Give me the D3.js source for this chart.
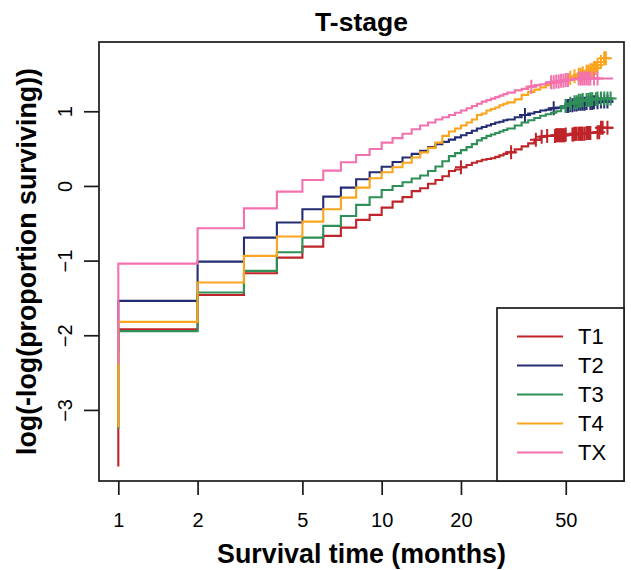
<!DOCTYPE html>
<html>
<head>
<meta charset="utf-8">
<script src="https://cdn.jsdelivr.net/npm/d3@7"></script>
<style>
  html, body { margin: 0; padding: 0; background: #fff; }
  svg { display: block; }
  text { font-family: "Liberation Sans", Arial, Helvetica, sans-serif; fill: #000; }
</style>
</head>
<body>
<svg id="chart" width="631" height="570"></svg>
<script>
// Complementary log-log survival curves by T-stage (months on a log axis)
const groups = ["T1", "T2", "T3", "T4", "TX"];
const groupColors = ["#BE2429", "#252D72", "#2E8F57", "#FBA41E", "#F271AE"];

// months at which the step curves change
const stepMonths = [1, 2, 3, 4, 5, 6, 7, 8, 9, 10,
  11, 12, 13, 14, 15, 16, 17, 18, 19, 20,
  21, 22, 23, 24, 25, 26, 27, 28, 29, 30,
  32, 34, 36, 38, 40, 42, 44, 46, 48, 50,
  52, 54, 56, 58, 60, 62, 64, 66, 68, 70];

// log(-log(S)) after each step month
const t1Values = [-1.92, -1.46, -1.169, -0.96, -0.813, -0.669, -0.558, -0.455, -0.388, -0.29,
  -0.21, -0.15, -0.07, -0.03, 0.03, 0.08, 0.13, 0.20, 0.22, 0.25,
  0.28, 0.31, 0.33, 0.35, 0.36, 0.37, 0.39, 0.41, 0.43, 0.45,
  0.49, 0.53, 0.57, 0.62, 0.66, 0.67, 0.67, 0.68, 0.68, 0.69,
  0.69, 0.70, 0.70, 0.70, 0.71, 0.71, 0.72, 0.72, 0.78, 0.78];
const t2Values = [-1.54, -1.013, -0.692, -0.49, -0.312, -0.143, -0.023, 0.09, 0.183, 0.258,
  0.32, 0.38, 0.43, 0.47, 0.52, 0.56, 0.59, 0.62, 0.65, 0.68,
  0.71, 0.74, 0.77, 0.79, 0.81, 0.83, 0.85, 0.86, 0.88, 0.89,
  0.92, 0.95, 0.97, 0.99, 1.01, 1.02, 1.04, 1.05, 1.06, 1.07,
  1.08, 1.09, 1.10, 1.10, 1.11, 1.11, 1.12, 1.12, 1.13, 1.13];
const t3Values = [-1.945, -1.428, -1.138, -0.888, -0.692, -0.535, -0.402, -0.254, -0.151, -0.054,
  0.00, 0.05, 0.10, 0.14, 0.20, 0.26, 0.33, 0.40, 0.44, 0.48,
  0.52, 0.56, 0.61, 0.64, 0.67, 0.69, 0.71, 0.73, 0.75, 0.77,
  0.81, 0.85, 0.88, 0.91, 0.94, 0.96, 0.98, 1.00, 1.04, 1.07,
  1.10, 1.12, 1.14, 1.15, 1.15, 1.16, 1.16, 1.17, 1.17, 1.17];
const t4Values = [-1.82, -1.294, -0.937, -0.678, -0.478, -0.312, -0.157, -0.023, 0.103, 0.183,
  0.25, 0.31, 0.38, 0.45, 0.51, 0.58, 0.67, 0.73, 0.77, 0.81,
  0.85, 0.89, 0.95, 0.97, 1.01, 1.03, 1.05, 1.08, 1.10, 1.12,
  1.16, 1.22, 1.26, 1.29, 1.32, 1.35, 1.38, 1.39, 1.41, 1.43,
  1.45, 1.47, 1.49, 1.51, 1.53, 1.55, 1.58, 1.62, 1.66, 1.71];
const txValues = [-1.04, -0.566, -0.30, -0.076, 0.08, 0.205, 0.317, 0.415, 0.495, 0.58,
  0.64, 0.70, 0.76, 0.81, 0.85, 0.89, 0.92, 0.95, 0.98, 1.01,
  1.04, 1.07, 1.10, 1.13, 1.15, 1.17, 1.19, 1.21, 1.23, 1.25,
  1.28, 1.30, 1.33, 1.35, 1.36, 1.38, 1.39, 1.40, 1.41, 1.42,
  1.43, 1.43, 1.44, 1.44, 1.44, 1.44, 1.44, 1.44, 1.44, 1.44];

// lowest point of the first (vertical) step at month 1
const startValues = [-3.745, -2.2, -3.24, -3.22, -2.37];
// last follow-up month per group
const endMonths = [75, 75, 75, 71, 75];

// censored observations (months)
const t1Censored = [20, 31, 38.5, 40.5, 42.5, 45.5, 46, 46.5, 47, 47.5, 48, 48.5, 49, 49.5, 50,
  53, 53.5, 54, 54.5, 55, 56, 56.5, 57, 57.5, 58, 59, 60, 60.5, 61, 61.5, 62, 66, 67, 68, 69, 72];
const t2Censored = [35, 45, 50, 51, 52, 53, 54, 55, 56, 57, 58, 59, 60, 62, 63, 64, 66, 68, 70, 72];
const t3Censored = [50, 52, 54, 55, 56, 57, 58, 60, 61, 62, 63, 65, 66, 68, 70, 72, 74];
const t4Censored = [52, 54, 56, 57, 58, 60, 61, 62, 63, 64, 65, 66, 68, 70, 71];
const txCensored = [37, 44, 45, 46, 47, 48, 49, 50, 51, 56, 57, 58, 59, 60, 61, 62, 64, 66];

const xTicks = [1, 2, 5, 10, 20, 50];
const yTicks = [-3, -2, -1, 0, 1];

const valueSets = [t1Values, t2Values, t3Values, t4Values, txValues];
const censorSets = [t1Censored, t2Censored, t3Censored, t4Censored, txCensored];

// ---- layout ----
const W = 631, H = 570;
const plot = { left: 99, right: 624, top: 42, bottom: 481 };

const x = d3.scaleLog()
  .domain([0.8446, 83.2])
  .range([plot.left, plot.right]);
const y = d3.scaleLinear()
  .domain([-3.952, 1.928])
  .range([plot.bottom, plot.top]);

const svg = d3.select("#chart");

svg.append("defs").append("clipPath").attr("id", "plotClip")
  .append("rect")
  .attr("x", plot.left).attr("y", plot.top)
  .attr("width", plot.right - plot.left).attr("height", plot.bottom - plot.top);

const minus = v => (v < 0 ? "\u2212" + Math.abs(v) : String(v));

// ---- curves ----
const line = d3.line()
  .x(d => x(d[0]))
  .y(d => y(d[1]))
  .curve(d3.curveStepAfter);

function stepValueAt(values, t) {
  let v = null;
  for (let i = 0; i < stepMonths.length; i++) {
    if (stepMonths[i] <= t) v = values[i];
  }
  return v;
}

const curves = svg.append("g").attr("clip-path", "url(#plotClip)");

groups.forEach((g, i) => {
  const values = valueSets[i];
  const pts = [[stepMonths[0], startValues[i]]];
  stepMonths.forEach((m, k) => {
    if (m <= endMonths[i]) pts.push([m, values[k]]);
  });
  pts.push([endMonths[i], stepValueAt(values, endMonths[i])]);

  curves.append("path")
    .attr("d", line(pts))
    .attr("fill", "none")
    .attr("stroke", groupColors[i])
    .attr("stroke-width", 2.1)
    .attr("stroke-linejoin", "miter")
    .attr("stroke-linecap", "square");

  // censoring marks drawn as plus signs on the curve
  const armX = 6, armY = 7;
  censorSets[i].forEach(t => {
    const cx = x(t), cy = y(stepValueAt(values, t));
    curves.append("path")
      .attr("d", `M${cx - armX},${cy}H${cx + armX}M${cx},${cy - armY}V${cy + armY}`)
      .attr("stroke", groupColors[i])
      .attr("stroke-width", 2)
      .attr("fill", "none");
  });
});

// ---- frame ----
svg.append("rect")
  .attr("x", plot.left).attr("y", plot.top)
  .attr("width", plot.right - plot.left).attr("height", plot.bottom - plot.top)
  .attr("fill", "none").attr("stroke", "#1a1a1a").attr("stroke-width", 1.7);

// ---- x axis ----
const xAxis = d3.axisBottom(x)
  .tickValues(xTicks)
  .tickFormat(d3.format("d"))
  .tickSize(14)
  .tickPadding(18);
const gx = svg.append("g")
  .attr("transform", `translate(0,${plot.bottom})`)
  .call(xAxis);
gx.select(".domain").remove();
gx.selectAll(".tick line").attr("stroke", "#1a1a1a").attr("stroke-width", 1.7);
gx.selectAll(".tick text")
  .attr("font-size", 20)
  .attr("fill", "#000")
  .style("font-family", '"Liberation Sans", Arial, sans-serif');

// ---- y axis ----
const yAxis = d3.axisLeft(y)
  .tickValues(yTicks)
  .tickFormat(minus)
  .tickSize(15);
const gy = svg.append("g")
  .attr("transform", `translate(${plot.left},0)`)
  .call(yAxis);
gy.select(".domain").remove();
gy.selectAll(".tick line").attr("stroke", "#1a1a1a").attr("stroke-width", 1.7);
gy.selectAll(".tick text")
  .attr("x", null).attr("dy", null)
  .attr("text-anchor", "middle")
  .attr("font-size", 20)
  .attr("fill", "#000")
  .style("font-family", '"Liberation Sans", Arial, sans-serif')
  .attr("transform", "translate(-27,0) rotate(-90)");

// ---- titles ----
const midX = (plot.left + plot.right) / 2;
const midY = (plot.top + plot.bottom) / 2;

svg.append("text")
  .attr("x", midX).attr("y", 31)
  .attr("text-anchor", "middle")
  .attr("font-size", 26.5).attr("font-weight", "bold")
  .text("T-stage");

svg.append("text")
  .attr("x", midX).attr("y", 563)
  .attr("text-anchor", "middle")
  .attr("font-size", 26.8).attr("font-weight", "bold")
  .text("Survival time (months)");

svg.append("text")
  .attr("transform", `translate(36,${midY}) rotate(-90)`)
  .attr("text-anchor", "middle")
  .attr("font-size", 26.8).attr("font-weight", "bold")
  .text("log(-log(proportion surviving))");

// ---- legend ----
const legend = { left: 497, top: 308, right: plot.right, bottom: plot.bottom };
svg.append("rect")
  .attr("x", legend.left).attr("y", legend.top)
  .attr("width", legend.right - legend.left).attr("height", legend.bottom - legend.top)
  .attr("fill", "#fff").attr("stroke", "#1a1a1a").attr("stroke-width", 1.7);

const legendRow = d3.scaleBand().domain(groups).range([322, 467]);
groups.forEach((g, i) => {
  const cy = legendRow(g) + legendRow.bandwidth() / 2;
  svg.append("line")
    .attr("x1", 517).attr("x2", 563)
    .attr("y1", cy).attr("y2", cy)
    .attr("stroke", groupColors[i]).attr("stroke-width", 2);
  svg.append("text")
    .attr("x", 578).attr("y", cy)
    .attr("dy", "0.36em")
    .attr("font-size", 22)
    .text(g);
});
</script>
</body>
</html>
